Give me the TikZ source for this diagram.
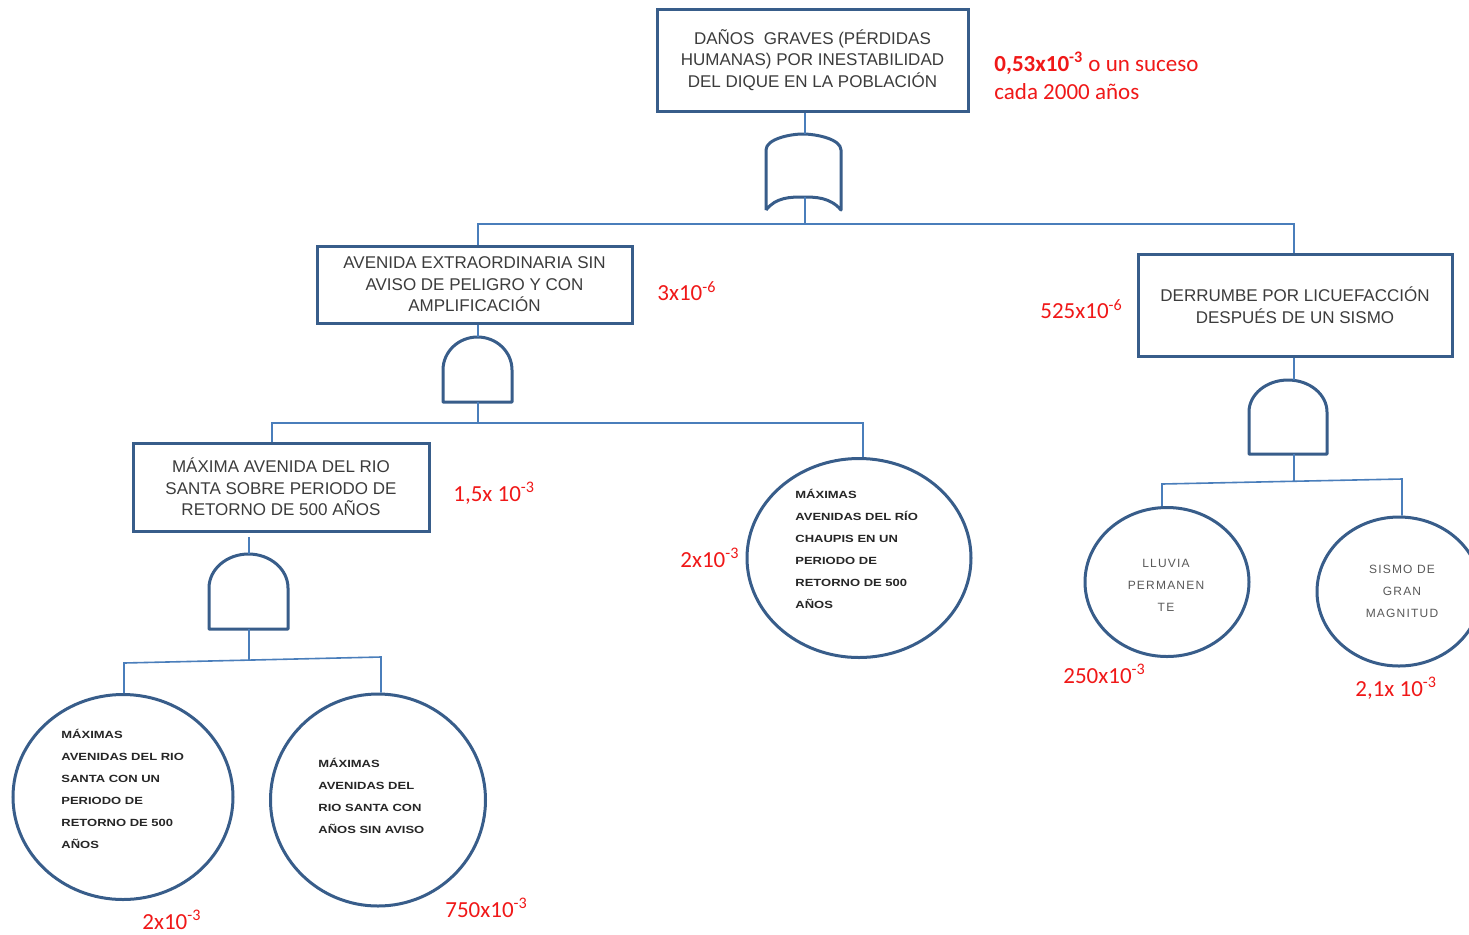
\documentclass[tikz,border=0pt]{standalone}
\usepackage{fontspec}
\setmainfont{Liberation Sans}
\newfontfamily\calfont{Carlito}
\newfontfamily\circfont{Liberation Sans}[FakeStretch=1.25]
\newfontfamily\lightfont{Liberation Sans}[LetterSpace=10]
\usetikzlibrary{shapes.geometric}
\definecolor{boxblue}{HTML}{385D8A}
\definecolor{lineblue}{HTML}{4A7EBB}
\definecolor{txtgray}{HTML}{3C3C3C}
\definecolor{lblred}{HTML}{F01818}
\tikzset{
 evbox/.style={draw=boxblue, line width=1.5pt, align=center, text=txtgray, font=\fontsize{8.5}{10.75}\selectfont, inner sep=0pt},
 conn/.style={draw=lineblue, line width=0.8pt},
 gatestyle/.style={draw=boxblue, line width=1.5pt, line join=round},
 circ/.style={draw=boxblue, line width=1.5pt, ellipse, inner sep=0pt},
 lbl/.style={text=lblred, font=\calfont\fontsize{11.5}{14}\selectfont, inner sep=0pt, anchor=west, align=left},
 ctext/.style={text=black!85, font=\circfont\bfseries\fontsize{5.2}{11}\selectfont, align=left, inner sep=0pt, anchor=west},
 ltext/.style={text=black!65, font=\lightfont\fontsize{6}{11}\selectfont, align=center, inner sep=0pt},
}
% AND gate: #1 x left, #2 x right, #3 y top, #4 y where arch meets sides, #5 y bottom
\newcommand\myandgate[5]{%
 \draw[gatestyle] (#1,#5) -- (#1,#4)
  .. controls (#1,{#4-0.5523*(#4-#3)}) and ({(#1+#2)/2-0.5523*(#2-#1)/2},#3) .. ({(#1+#2)/2},#3)
  .. controls ({(#1+#2)/2+0.5523*(#2-#1)/2},#3) and (#2,{#4-0.5523*(#4-#3)}) .. (#2,#4)
  -- (#2,#5) -- cycle;}
\begin{document}
\begin{tikzpicture}[x=0.5pt,y=-0.5pt]
\useasboundingbox (0,0) rectangle (1469,934);
\fill[white] (0,0) rectangle (1469,934);

% boxes
\node[evbox, minimum width=155.5pt, minimum height=51pt] (top) at (812.5,60)
 {DAÑOS\ \ GRAVES (PÉRDIDAS\\HUMANAS) POR INESTABILIDAD\\DEL DIQUE EN LA POBLACIÓN};
\node[evbox, minimum width=157.5pt, minimum height=38.5pt] (ave) at (474.5,284.5)
 {AVENIDA EXTRAORDINARIA SIN\\AVISO DE PELIGRO Y CON\\AMPLIFICACIÓN};
\node[evbox, minimum width=157pt, minimum height=51pt] (der) at (1295,305)
 {DERRUMBE POR LICUEFACCIÓN\\DESPUÉS DE UN SISMO};
\node[evbox, minimum width=148pt, minimum height=44pt] (max) at (281,487)
 {MÁXIMA AVENIDA DEL RIO\\SANTA SOBRE PERIODO DE\\RETORNO DE 500 AÑOS};

% circles
\node[circ, minimum width=112pt, minimum height=99.5pt] (chau) at (859,558) {};
\node[ctext] (chaut) at (795,549) {MÁXIMAS\\AVENIDAS DEL RÍO\\CHAUPIS EN UN\\PERIODO DE\\RETORNO DE 500\\AÑOS};
\node[circ, minimum width=110pt, minimum height=102.5pt] (sa) at (123,797) {};
\node[ctext] (sat) at (61,789) {MÁXIMAS\\AVENIDAS DEL RIO\\SANTA CON UN\\PERIODO DE\\RETORNO DE 500\\AÑOS};
\node[circ, minimum width=107.5pt, minimum height=106pt] (sb) at (378,800) {};
\node[ctext] (sbt) at (318,796) {MÁXIMAS\\AVENIDAS DEL\\RIO SANTA CON\\AÑOS SIN AVISO};
\node[circ, minimum width=82pt, minimum height=74.5pt] (llu) at (1167,582) {};
\node[ltext] (llut) at (1166,585.5) {LLUVIA\\PERMANEN\\TE};
\node[circ, minimum width=82pt, minimum height=74.5pt] (sis) at (1399,591.5) {};
\node[ltext] (sist) at (1402,591.5) {SISMO DE\\GRAN\\MAGNITUD};

% gates
\draw[gatestyle] (766,210) -- (766,150)
  .. controls (766,139) and (790,134) .. (803,134)
  .. controls (816,134) and (841,139) .. (841,150)
  -- (841,210)
  .. controls (830,197) and (815,197) .. (803,197)
  .. controls (791,197) and (776,197) .. (766,210);
\coordinate (orT) at (805,134);
\coordinate (orB) at (805,197);
\myandgate{443}{512}{337}{370}{402}
\coordinate (aT) at (478,337);
\coordinate (aB) at (478,402);
\myandgate{209}{288}{554}{588}{629}
\coordinate (bT) at (249,554);
\coordinate (bB) at (249,629);
\coordinate (bS) at (249,537);
\myandgate{1249}{1327}{380}{412}{454}
\coordinate (cT) at (1294,380);
\coordinate (cB) at (1294,454);

% connectors
\coordinate (h1) at (805,224);
\coordinate (h1l) at (478,224);
\coordinate (h1r) at (1294,224);
\draw[conn] (orT |- top.south) -- (orT);
\draw[conn] (orB) -- (h1);
\draw[conn] (h1l |- ave.north) -- (h1l) -- (h1r) -- (h1r |- der.north);
\draw[conn] (aT |- ave.south) -- (aT);
\coordinate (h2l) at (272,423);
\coordinate (h2r) at (863,423);
\draw[conn] (aB) -- (aB |- h2l);
\draw[conn] (h2l |- max.north) -- (h2l) -- (h2r) -- (h2r |- chau.north);
\draw[conn] (bS) -- (bT);
\coordinate (h3l) at (124,663);
\coordinate (h3r) at (381,657);
\draw[conn] (bB) -- (249,660);
\draw[conn] (h3l |- sa.north) -- (h3l) -- (h3r) -- (h3r |- sb.north);
\draw[conn] (cT |- der.south) -- (cT);
\coordinate (h4l) at (1162,484);
\coordinate (h4r) at (1402,479);
\draw[conn] (cB) -- (1294,481);
\draw[conn] (h4l |- llu.north) -- (h4l) -- (h4r) -- (h4r |- sis.north);

% labels
\node[lbl] (l0) at (994,76) {{\bfseries 0,53x10\textsuperscript{-3}} o un suceso\\cada 2000 años};
\node[lbl] (l1) at (657,291) {3x10\textsuperscript{-6}};
\node[lbl] (l2) at (1040,309) {525x10\textsuperscript{-6}};
\node[lbl] (l3) at (453,493) {1,5x 10\textsuperscript{-3}};
\node[lbl] (l4) at (680,558) {2x10\textsuperscript{-3}};
\node[lbl] (l5) at (142,920) {2x10\textsuperscript{-3}};
\node[lbl] (l6) at (445,908) {750x10\textsuperscript{-3}};
\node[lbl] (l7) at (1063,674) {250x10\textsuperscript{-3}};
\node[lbl] (l8) at (1355,688) {2,1x 10\textsuperscript{-3}};
\end{tikzpicture}
\end{document}
